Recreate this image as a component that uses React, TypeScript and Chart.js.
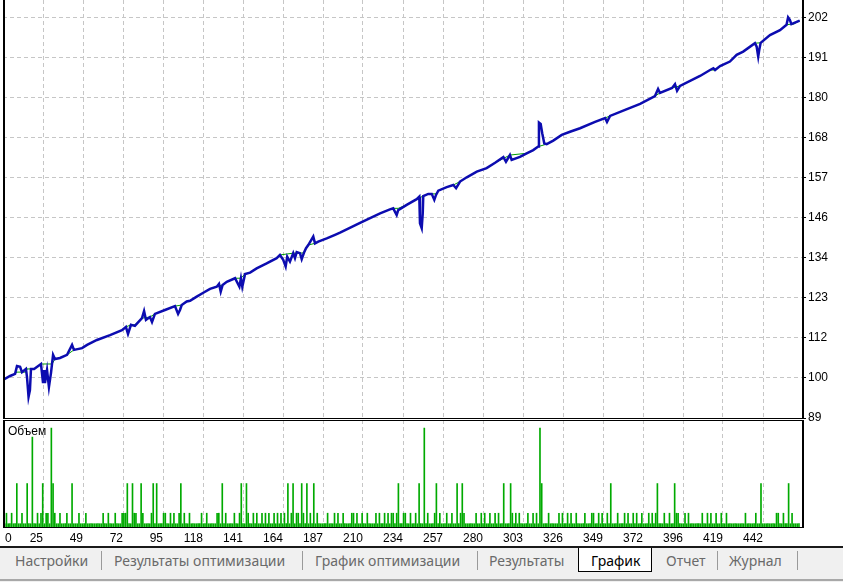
import React, { useEffect, useRef } from 'react';
import { Chart, registerables } from 'chart.js';

Chart.register(...registerables);

// ---------- data ----------
const X_LABELS = ['0', '25', '49', '72', '95', '118', '141', '164', '187', '210', '234', '257', '280', '303', '326', '349', '372', '396', '419', '442'];
const Y_LABELS = ['89', '100', '112', '123', '134', '146', '157', '168', '180', '191', '202'];
const Y_MIN = 89;
const Y_TICK_STEP = 34 / 3;

// equity (blue) – trade index / value
const EQUITY_X = [0, 4.1, 7.0, 8.1, 9.9, 11.0, 13.3, 13.9, 14.8, 15.6, 16.2, 18.0, 22.0, 23.2, 23.8, 24.3, 25.5, 26.6, 27.8, 29.0, 30.1, 33.0, 37.1, 40.0, 41.1, 45.8, 48.7, 54.4, 62.0, 68.9, 71.2, 72.4, 74.1, 76.4, 80.5, 81.7, 82.8, 85.1, 86.3, 88.0, 93.8, 99.6, 101.4, 102.5, 103.5, 106.4, 108.3, 112.2, 116.0, 119.9, 123.8, 125.1, 126.1, 127.2, 129.6, 134.4, 136.9, 137.8, 138.6, 140.2, 143.1, 146.9, 152.7, 158.5, 160.4, 162.3, 163.7, 164.6, 166.2, 168.1, 169.1, 170.1, 172.0, 173.0, 174.3, 175.5, 176.8, 179.7, 180.7, 182.6, 187.5, 192.3, 195.2, 206.8, 218.4, 224.1, 226.0, 228.0, 228.9, 233.8, 239.6, 241.1, 241.5, 242.5, 243.1, 243.4, 246.3, 248.3, 249.8, 250.8, 252.1, 257.0, 260.8, 262.4, 264.7, 268.6, 274.4, 280.1, 285.0, 289.8, 291.3, 293.6, 294.6, 299.4, 303.3, 307.1, 310.0, 310.4, 311.4, 312.3, 313.5, 314.9, 318.7, 323.6, 328.4, 334.2, 342.9, 348.7, 349.8, 351.6, 360.3, 369.0, 377.6, 379.4, 380.5, 387.5, 389.2, 390.4, 392.1, 403.7, 409.5, 411.4, 412.4, 415.3, 421.0, 424.9, 428.7, 435.5, 436.5, 437.4, 438.0, 438.8, 444.2, 450.0, 453.8, 454.7, 455.7, 456.6, 461.4];
const EQUITY_Y = [99.8, 100.9, 101.5, 103.7, 103.5, 102.0, 102.9, 100.6, 95.0, 96.9, 102.9, 102.9, 104.3, 98.9, 102.6, 98.9, 102.6, 97.8, 101.8, 106.9, 105.7, 106.0, 106.9, 109.7, 108.3, 108.8, 109.7, 111.1, 112.5, 113.9, 114.8, 112.8, 115.4, 115.1, 117.3, 119.3, 116.8, 117.6, 116.2, 118.5, 119.6, 120.7, 118.5, 119.6, 121.0, 122.0, 122.2, 123.4, 124.5, 125.6, 126.2, 127.0, 124.8, 126.7, 127.6, 128.6, 126.2, 128.6, 126.2, 129.8, 130.2, 131.4, 132.8, 134.3, 135.2, 133.8, 131.9, 134.7, 133.3, 135.7, 134.3, 136.0, 135.7, 134.0, 135.8, 137.1, 138.0, 140.4, 138.5, 139.0, 139.9, 140.9, 141.5, 144.3, 147.0, 148.1, 148.4, 146.5, 147.9, 149.4, 151.0, 151.7, 144.2, 142.8, 147.0, 151.9, 152.5, 152.5, 150.8, 152.2, 153.4, 154.4, 155.0, 154.1, 156.0, 157.2, 158.8, 159.8, 161.3, 162.9, 161.6, 163.5, 162.1, 163.0, 164.0, 164.9, 165.9, 172.7, 172.3, 169.7, 166.8, 166.6, 167.6, 169.2, 170.1, 171.1, 172.9, 174.0, 172.9, 174.6, 176.3, 178.0, 180.2, 182.2, 181.1, 182.5, 183.6, 181.7, 183.1, 185.9, 187.6, 188.1, 187.6, 188.7, 190.0, 191.9, 192.8, 195.2, 194.2, 191.4, 193.3, 195.3, 197.5, 198.9, 200.4, 202.5, 201.8, 200.6, 201.6];

// balance (green) – trade index / value
const BALANCE_X = [0, 4.1, 7.0, 8.1, 13.3, 13.9, 18.0, 22.0, 28.4, 30.1, 33.0, 37.1, 41.1, 45.8, 48.7, 54.4, 62.0, 68.9, 71.2, 74.1, 76.4, 80.5, 85.1, 88.0, 93.8, 99.6, 103.5, 106.4, 108.3, 112.2, 116.0, 119.9, 123.8, 127.2, 129.6, 134.4, 137.8, 140.2, 143.1, 146.9, 152.7, 158.5, 160.4, 168.1, 172.0, 174.3, 175.5, 176.8, 180.7, 182.6, 187.5, 192.3, 195.2, 206.8, 218.4, 224.1, 226.0, 228.9, 233.8, 239.6, 243.4, 246.3, 248.3, 250.8, 252.1, 257.0, 260.8, 264.7, 268.6, 274.4, 280.1, 285.0, 293.6, 303.3, 307.1, 310.0, 314.9, 318.7, 323.6, 328.4, 334.2, 342.9, 348.7, 351.6, 360.3, 369.0, 377.6, 380.5, 387.5, 392.1, 403.7, 409.5, 412.4, 415.3, 421.0, 424.9, 428.7, 435.5, 438.8, 444.2, 450.0, 453.8, 456.6, 458.0, 461.4];
const BALANCE_Y = [99.8, 100.9, 101.5, 102.0, 102.0, 102.9, 102.9, 104.3, 104.3, 105.7, 106.0, 106.9, 108.3, 108.8, 109.7, 111.1, 112.5, 113.9, 114.8, 115.4, 115.4, 117.3, 117.6, 118.5, 119.6, 120.7, 121.0, 122.0, 122.2, 123.4, 124.5, 125.6, 126.2, 126.7, 127.6, 128.6, 128.6, 129.8, 130.2, 131.4, 132.8, 134.3, 135.2, 135.7, 135.7, 135.8, 137.1, 138.0, 138.5, 139.0, 139.9, 140.9, 141.5, 144.3, 147.0, 148.1, 148.4, 148.4, 149.4, 151.0, 151.9, 152.5, 152.5, 152.5, 153.4, 154.4, 155.0, 156.0, 157.2, 158.8, 159.8, 161.3, 163.5, 164.0, 164.9, 165.9, 166.6, 167.6, 169.2, 170.1, 171.1, 172.9, 174.0, 174.6, 176.3, 178.0, 180.2, 181.1, 182.5, 183.1, 185.9, 187.6, 187.6, 188.7, 190.0, 191.9, 192.8, 195.2, 195.3, 197.5, 198.9, 200.4, 200.6, 200.6, 201.6];

// volume panel: every trade has a minimal volume, larger ones listed by trade index
const VOL_FIRST = 1;
const VOL_LAST = 461;
const VOL_SMALL = 1.1;
const VOL_MEDIUM = 4.6;
const VOL_TALL = 14.5;
const VOL_HUGE_A = 30;
const VOL_HUGE_B = 33;
const VOL_MEDIUM_IDX = [2, 5, 11, 20, 22, 25, 26, 30, 33, 37, 44, 48, 58, 61, 65, 69, 70, 71, 76, 77, 81, 86, 93, 94, 97, 99, 102, 105, 108, 115, 118, 124, 125, 129, 134, 137, 142, 145, 147, 150, 152, 154, 157, 159, 161, 163, 167, 170, 171, 174, 178, 182, 188, 192, 194, 197, 202, 203, 205, 208, 211, 216, 218, 221, 223, 225, 226, 228, 232, 233, 236, 239, 246, 250, 253, 257, 260, 265, 267, 274, 277, 279, 282, 285, 287, 295, 297, 299, 304, 307, 309, 316, 322, 324, 327, 329, 332, 337, 341, 342, 345, 347, 350, 356, 360, 362, 365, 367, 370, 374, 376, 378, 383, 386, 390, 391, 395, 397, 405, 408, 410, 413, 416, 419, 430, 436, 448, 449, 452, 457];
const VOL_TALL_IDX = [8, 14, 23, 29, 40, 72, 75, 80, 87, 89, 103, 127, 138, 141, 165, 168, 173, 176, 180, 229, 241, 251, 263, 266, 290, 294, 312, 352, 379, 389, 439, 455];
const VOL_HUGE_A_IDX = [17];
const VOL_HUGE_B_IDX = [28, 244, 311];

// ---------- styling ----------
const X_MAX = 463.33;
const X_STEP = X_MAX / 20;
const Y_MAX = 207.43;
const VOL_MAX = 35.7;
const GRID_COLOR = '#c6c6c6';
const GRID_DASH = [4, 3];
const BLUE = '#0c0cb0';
const GREEN_LINE = '#00a000';
const GREEN_BAR = '#00aa00';
const AXIS_FONT = { family: '"Liberation Sans", Arial, sans-serif', size: 12 };

function buildVolume() {
  const map = new Map<number, number>();
  for (let i = VOL_FIRST; i <= VOL_LAST; i++) map.set(i, VOL_SMALL);
  VOL_MEDIUM_IDX.forEach((i) => map.set(i, VOL_MEDIUM));
  VOL_TALL_IDX.forEach((i) => map.set(i, VOL_TALL));
  VOL_HUGE_A_IDX.forEach((i) => map.set(i, VOL_HUGE_A));
  VOL_HUGE_B_IDX.forEach((i) => map.set(i, VOL_HUGE_B));
  return Array.from(map.entries())
    .sort((a, b) => a[0] - b[0])
    .map(([x, y]) => ({ x, y }));
}

const xTicks = (s: any) => {
  s.ticks = X_LABELS.map((_, k) => ({ value: k * X_STEP }));
};

const noPad = (s: any) => {
  s.paddingTop = 0;
  s.paddingBottom = 0;
  s.paddingLeft = 0;
  s.paddingRight = 0;
};

const mainFrame = {
  id: 'mainFrame',
  afterDraw(chart: any) {
    const { ctx, chartArea } = chart;
    const { left, right, top, bottom } = chartArea;
    ctx.save();
    ctx.fillStyle = '#000';
    ctx.fillRect(left, top, 2, bottom - top + 1);
    ctx.fillRect(right - 1, top, 2, bottom - top + 1);
    ctx.fillRect(left, bottom, right - left + 1, 1);
    ctx.restore();
  },
};

const volFrame = {
  id: 'volFrame',
  afterDraw(chart: any) {
    const { ctx, chartArea, scales } = chart;
    const { left, right, top, bottom } = chartArea;
    ctx.save();
    ctx.fillStyle = '#000';
    ctx.fillRect(left, top, 2, bottom - top + 1);
    ctx.fillRect(right - 1, top, 2, bottom - top + 1);
    ctx.fillRect(left, top, right - left + 1, 1);
    ctx.fillRect(left, bottom, right - left + 1, 1);
    ctx.font = `12px ${AXIS_FONT.family}`;
    ctx.textBaseline = 'alphabetic';
    ctx.textAlign = 'left';
    ctx.fillText('Объем', left + 5, top + 15);
    const xs = scales.x;
    X_LABELS.forEach((lab, k) => {
      const px = xs.getPixelForValue(k * X_STEP);
      if (k === 0) {
        ctx.textAlign = 'left';
        ctx.fillText(lab, px + 2, bottom + 14.5);
      } else {
        ctx.textAlign = 'right';
        ctx.fillText(lab, px, bottom + 14.5);
      }
    });
    ctx.restore();
  },
};

export default function App() {
  const mainRef = useRef<HTMLCanvasElement>(null);
  const volRef = useRef<HTMLCanvasElement>(null);

  useEffect(() => {
    const main = new Chart(mainRef.current as HTMLCanvasElement, {
      type: 'line',
      data: {
        datasets: [
          {
            label: 'Equity',
            data: EQUITY_X.map((x, i) => ({ x, y: EQUITY_Y[i] })),
            borderColor: BLUE,
            borderWidth: 2.5,
            pointRadius: 0,
            tension: 0,
          },
          {
            label: 'Balance',
            data: BALANCE_X.map((x, i) => ({ x, y: BALANCE_Y[i] })),
            borderColor: GREEN_LINE,
            borderWidth: 1,
            pointRadius: 0,
            tension: 0,
          },
        ],
      },
      options: {
        responsive: false,
        animation: false,
        devicePixelRatio: 1,
        layout: { padding: { left: 3, top: 0, right: 0, bottom: 14 } },
        plugins: { legend: { display: false }, tooltip: { enabled: false } },
        scales: {
          x: {
            type: 'linear',
            min: 0,
            max: X_MAX,
            afterBuildTicks: xTicks,
            afterFit: (s: any) => { s.height = 0; noPad(s); },
            ticks: { display: false },
            grid: { color: GRID_COLOR, drawTicks: false, lineWidth: 1 },
            border: { display: false, dash: GRID_DASH },
          },
          y: {
            position: 'right',
            min: Y_MIN,
            max: Y_MAX,
            afterBuildTicks: (s: any) => {
              s.ticks = Y_LABELS.map((_, k) => ({ value: Y_MIN + k * Y_TICK_STEP }));
            },
            afterFit: (s: any) => { s.width = 40; noPad(s); },
            ticks: {
              color: '#000',
              font: AXIS_FONT,
              padding: 2,
              callback: (_v: any, i: number) => Y_LABELS[i],
            },
            grid: { color: GRID_COLOR, tickColor: '#000', tickLength: 3, lineWidth: 1 },
            border: { display: false, dash: GRID_DASH },
          },
        },
      },
      plugins: [mainFrame],
    } as any);

    const vol = new Chart(volRef.current as HTMLCanvasElement, {
      type: 'bar',
      data: {
        datasets: [
          {
            label: 'Объем',
            data: buildVolume(),
            backgroundColor: GREEN_BAR,
            barThickness: 1,
            borderWidth: 0,
          },
        ],
      },
      options: {
        responsive: false,
        animation: false,
        devicePixelRatio: 1,
        layout: { padding: { left: 3, top: 0, right: 40, bottom: 0 } },
        plugins: { legend: { display: false }, tooltip: { enabled: false } },
        scales: {
          x: {
            type: 'linear',
            min: 0,
            max: X_MAX,
            offset: false,
            afterBuildTicks: xTicks,
            afterFit: (s: any) => { s.height = 18; noPad(s); },
            ticks: { display: false },
            grid: { color: GRID_COLOR, drawTicks: false, lineWidth: 1, offset: false },
            border: { display: false, dash: GRID_DASH },
          },
          y: { display: false, min: 0, max: VOL_MAX },
        },
      },
      plugins: [volFrame],
    } as any);

    return () => {
      main.destroy();
      vol.destroy();
    };
  }, []);

  const tabs = [
    { text: 'Настройки', left: 15 },
    { text: 'Результаты оптимизации', left: 114 },
    { text: 'График оптимизации', left: 315 },
    { text: 'Результаты', left: 489 },
    { text: 'График', left: 591, active: true },
    { text: 'Отчет', left: 666 },
    { text: 'Журнал', left: 729 },
  ];
  const seps = [101, 302, 477, 717, 797];

  return (
    <div style={{ position: 'absolute', left: 0, top: 0, width: 843, height: 582, background: '#fff', overflow: 'hidden' }}>
      <canvas ref={mainRef} width={843} height={432} style={{ position: 'absolute', left: 0, top: 0 }} />
      <canvas ref={volRef} width={843} height={125} style={{ position: 'absolute', left: 0, top: 420 }} />
      <div style={{ position: 'absolute', left: 0, top: 546, width: 843, height: 36, background: '#f0f0f0', borderTop: '2px solid #1a1a1a', boxSizing: 'border-box' }} />
      <div style={{ position: 'absolute', left: 0, top: 579, width: 843, height: 2, background: '#a8a8a8' }} />
      <div style={{ position: 'absolute', left: 578, top: 548, width: 74, height: 24, background: '#fff', border: '1px solid #000', borderTop: 'none', boxSizing: 'border-box' }} />
      {seps.map((x) => (
        <div key={x} style={{ position: 'absolute', left: x, top: 551, width: 1, height: 19, background: '#9a9a9a' }} />
      ))}
      {tabs.map((t) => (
        <div
          key={t.text}
          style={{
            position: 'absolute',
            left: t.left,
            top: 552,
            height: 18,
            lineHeight: '18px',
            whiteSpace: 'nowrap',
            fontFamily: '"Noto Sans", "Open Sans", sans-serif',
            fontSize: 14,
            color: t.active ? '#000' : '#6a6a6a',
          }}
        >
          {t.text}
        </div>
      ))}
    </div>
  );
}
